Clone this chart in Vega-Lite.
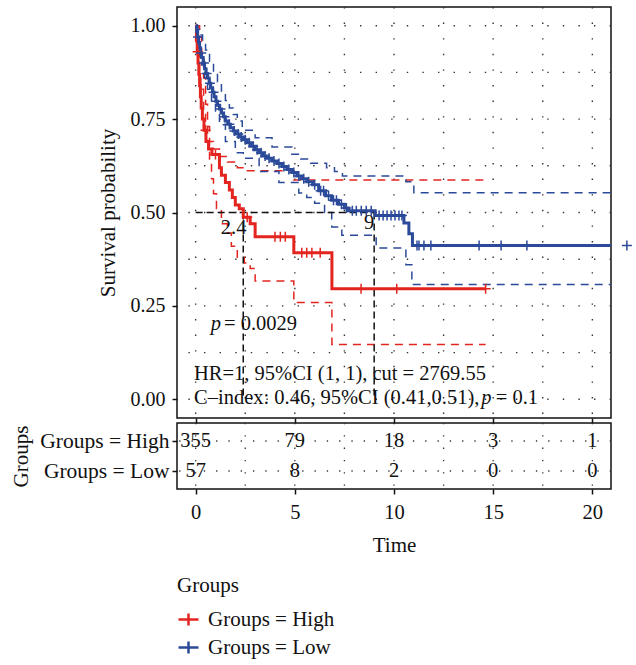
{
  "$schema": "https://vega.github.io/schema/vega-lite/v6.json",
  "padding": {"left": 10, "top": 5, "right": 5, "bottom": 5},
  "bounds": "flush",
  "spacing": 5,
  "config": {
    "font": "Liberation Serif",
    "view": {"stroke": "#111", "strokeWidth": 1.5},
    "axis": {"labelFontSize": 20, "titleFontSize": 21, "titleFontWeight": "normal", "labelColor": "#111", "titleColor": "#111", "tickColor": "#111", "tickWidth": 1.5, "tickSize": 5, "domain": false, "grid": false},
    "legend": {"orient": "none", "legendX": 0, "legendY": 568, "titleFontSize": 21, "titleFontWeight": "normal", "titleColor": "#111", "labelFontSize": 21, "labelColor": "#111", "symbolType": "M-1,0H1M0,-0.6V0.6", "symbolSize": 400, "symbolStrokeWidth": 2.5, "symbolFillColor": "transparent", "labelOffset": 8, "titlePadding": 12, "rowPadding": 5}
  },
  "datasets": {
    "gridx": [{"v": 0}, {"v": 2.5}, {"v": 5}, {"v": 7.5}, {"v": 10}, {"v": 12.5}, {"v": 15}, {"v": 17.5}, {"v": 20}],
    "gridy": [{"v": 0}, {"v": 0.125}, {"v": 0.25}, {"v": 0.375}, {"v": 0.5}, {"v": 0.625}, {"v": 0.75}, {"v": 0.875}, {"v": 1}],
    "rows": [{"g": "Groups = High"}, {"g": "Groups = Low"}],
    "ci": [
      {"t": 0, "s": 1.0, "g": "Groups = High", "b": "u"}, {"t": 0.2, "s": 0.97, "g": "Groups = High", "b": "u"}, {"t": 0.3, "s": 0.92, "g": "Groups = High", "b": "u"}, {"t": 0.4, "s": 0.86, "g": "Groups = High", "b": "u"}, {"t": 0.5, "s": 0.79, "g": "Groups = High", "b": "u"}, {"t": 0.6, "s": 0.73, "g": "Groups = High", "b": "u"}, {"t": 0.7, "s": 0.69, "g": "Groups = High", "b": "u"}, {"t": 0.9, "s": 0.67, "g": "Groups = High", "b": "u"}, {"t": 1.2, "s": 0.65, "g": "Groups = High", "b": "u"}, {"t": 1.6, "s": 0.635, "g": "Groups = High", "b": "u"}, {"t": 2.1, "s": 0.62, "g": "Groups = High", "b": "u"}, {"t": 2.5, "s": 0.612, "g": "Groups = High", "b": "u"}, {"t": 4.95, "s": 0.587, "g": "Groups = High", "b": "u"}, {"t": 14.62, "s": 0.587, "g": "Groups = High", "b": "u"},
      {"t": 0, "s": 1.0, "g": "Groups = High", "b": "l"}, {"t": 0.1, "s": 0.92, "g": "Groups = High", "b": "l"}, {"t": 0.2, "s": 0.86, "g": "Groups = High", "b": "l"}, {"t": 0.26, "s": 0.83, "g": "Groups = High", "b": "l"}, {"t": 0.4, "s": 0.77, "g": "Groups = High", "b": "l"}, {"t": 0.5, "s": 0.73, "g": "Groups = High", "b": "l"}, {"t": 0.6, "s": 0.69, "g": "Groups = High", "b": "l"}, {"t": 0.7, "s": 0.64, "g": "Groups = High", "b": "l"}, {"t": 0.8, "s": 0.59, "g": "Groups = High", "b": "l"}, {"t": 0.9, "s": 0.55, "g": "Groups = High", "b": "l"}, {"t": 1.05, "s": 0.51, "g": "Groups = High", "b": "l"}, {"t": 1.3, "s": 0.47, "g": "Groups = High", "b": "l"}, {"t": 1.6, "s": 0.445, "g": "Groups = High", "b": "l"}, {"t": 1.8, "s": 0.41, "g": "Groups = High", "b": "l"}, {"t": 2.1, "s": 0.38, "g": "Groups = High", "b": "l"}, {"t": 2.45, "s": 0.365, "g": "Groups = High", "b": "l"}, {"t": 2.75, "s": 0.35, "g": "Groups = High", "b": "l"}, {"t": 3.0, "s": 0.317, "g": "Groups = High", "b": "l"}, {"t": 4.95, "s": 0.259, "g": "Groups = High", "b": "l"}, {"t": 6.87, "s": 0.147, "g": "Groups = High", "b": "l"}, {"t": 14.62, "s": 0.147, "g": "Groups = High", "b": "l"},
      {"t": 0, "s": 1.0, "g": "Groups = Low", "b": "u"}, {"t": 0.1, "s": 0.99, "g": "Groups = Low", "b": "u"}, {"t": 0.2, "s": 0.975, "g": "Groups = Low", "b": "u"}, {"t": 0.35, "s": 0.955, "g": "Groups = Low", "b": "u"}, {"t": 0.5, "s": 0.935, "g": "Groups = Low", "b": "u"}, {"t": 0.7, "s": 0.905, "g": "Groups = Low", "b": "u"}, {"t": 0.9, "s": 0.875, "g": "Groups = Low", "b": "u"}, {"t": 1.1, "s": 0.85, "g": "Groups = Low", "b": "u"}, {"t": 1.3, "s": 0.825, "g": "Groups = Low", "b": "u"}, {"t": 1.5, "s": 0.8, "g": "Groups = Low", "b": "u"}, {"t": 1.7, "s": 0.78, "g": "Groups = Low", "b": "u"}, {"t": 1.9, "s": 0.762, "g": "Groups = Low", "b": "u"}, {"t": 2.1, "s": 0.745, "g": "Groups = Low", "b": "u"}, {"t": 2.35, "s": 0.72, "g": "Groups = Low", "b": "u"}, {"t": 3.0, "s": 0.7, "g": "Groups = Low", "b": "u"}, {"t": 3.85, "s": 0.675, "g": "Groups = Low", "b": "u"}, {"t": 4.85, "s": 0.656, "g": "Groups = Low", "b": "u"}, {"t": 5.3, "s": 0.643, "g": "Groups = Low", "b": "u"}, {"t": 5.8, "s": 0.632, "g": "Groups = Low", "b": "u"}, {"t": 6.6, "s": 0.62, "g": "Groups = Low", "b": "u"}, {"t": 7.0, "s": 0.61, "g": "Groups = Low", "b": "u"}, {"t": 7.4, "s": 0.598, "g": "Groups = Low", "b": "u"}, {"t": 10.6, "s": 0.582, "g": "Groups = Low", "b": "u"}, {"t": 11.0, "s": 0.553, "g": "Groups = Low", "b": "u"}, {"t": 21.74, "s": 0.553, "g": "Groups = Low", "b": "u"},
      {"t": 0, "s": 1.0, "g": "Groups = Low", "b": "l"}, {"t": 0.1, "s": 0.95, "g": "Groups = Low", "b": "l"}, {"t": 0.2, "s": 0.92, "g": "Groups = Low", "b": "l"}, {"t": 0.3, "s": 0.895, "g": "Groups = Low", "b": "l"}, {"t": 0.45, "s": 0.86, "g": "Groups = Low", "b": "l"}, {"t": 0.6, "s": 0.83, "g": "Groups = Low", "b": "l"}, {"t": 0.8, "s": 0.795, "g": "Groups = Low", "b": "l"}, {"t": 1.0, "s": 0.765, "g": "Groups = Low", "b": "l"}, {"t": 1.2, "s": 0.735, "g": "Groups = Low", "b": "l"}, {"t": 1.5, "s": 0.69, "g": "Groups = Low", "b": "l"}, {"t": 2.0, "s": 0.66, "g": "Groups = Low", "b": "l"}, {"t": 2.4, "s": 0.645, "g": "Groups = Low", "b": "l"}, {"t": 3.2, "s": 0.61, "g": "Groups = Low", "b": "l"}, {"t": 4.2, "s": 0.58, "g": "Groups = Low", "b": "l"}, {"t": 5.2, "s": 0.552, "g": "Groups = Low", "b": "l"}, {"t": 5.6, "s": 0.54, "g": "Groups = Low", "b": "l"}, {"t": 6.0, "s": 0.525, "g": "Groups = Low", "b": "l"}, {"t": 6.5, "s": 0.5, "g": "Groups = Low", "b": "l"}, {"t": 6.86, "s": 0.461, "g": "Groups = Low", "b": "l"}, {"t": 7.37, "s": 0.439, "g": "Groups = Low", "b": "l"}, {"t": 9.1, "s": 0.405, "g": "Groups = Low", "b": "l"}, {"t": 10.6, "s": 0.36, "g": "Groups = Low", "b": "l"}, {"t": 10.9, "s": 0.307, "g": "Groups = Low", "b": "l"}, {"t": 21.74, "s": 0.307, "g": "Groups = Low", "b": "l"}
    ],
    "curve": [
      {"t": 0, "s": 1.0, "g": "Groups = High"}, {"t": 0.04, "s": 0.96, "g": "Groups = High"}, {"t": 0.08, "s": 0.93, "g": "Groups = High"}, {"t": 0.12, "s": 0.9, "g": "Groups = High"}, {"t": 0.16, "s": 0.87, "g": "Groups = High"}, {"t": 0.2, "s": 0.84, "g": "Groups = High"}, {"t": 0.24, "s": 0.81, "g": "Groups = High"}, {"t": 0.28, "s": 0.78, "g": "Groups = High"}, {"t": 0.34, "s": 0.75, "g": "Groups = High"}, {"t": 0.42, "s": 0.72, "g": "Groups = High"}, {"t": 0.52, "s": 0.69, "g": "Groups = High"}, {"t": 0.65, "s": 0.67, "g": "Groups = High"}, {"t": 0.82, "s": 0.655, "g": "Groups = High"}, {"t": 1.2, "s": 0.62, "g": "Groups = High"}, {"t": 1.3, "s": 0.6, "g": "Groups = High"}, {"t": 1.5, "s": 0.58, "g": "Groups = High"}, {"t": 1.7, "s": 0.56, "g": "Groups = High"}, {"t": 1.85, "s": 0.54, "g": "Groups = High"}, {"t": 2.0, "s": 0.52, "g": "Groups = High"}, {"t": 2.2, "s": 0.51, "g": "Groups = High"}, {"t": 2.4, "s": 0.487, "g": "Groups = High"}, {"t": 2.75, "s": 0.47, "g": "Groups = High"}, {"t": 3.0, "s": 0.435, "g": "Groups = High"}, {"t": 4.95, "s": 0.392, "g": "Groups = High"}, {"t": 6.87, "s": 0.296, "g": "Groups = High"}, {"t": 14.62, "s": 0.296, "g": "Groups = High"},
      {"t": 0, "s": 1.0, "g": "Groups = Low"}, {"t": 0.05, "s": 0.985, "g": "Groups = Low"}, {"t": 0.1, "s": 0.97, "g": "Groups = Low"}, {"t": 0.15, "s": 0.955, "g": "Groups = Low"}, {"t": 0.2, "s": 0.94, "g": "Groups = Low"}, {"t": 0.25, "s": 0.927, "g": "Groups = Low"}, {"t": 0.3, "s": 0.915, "g": "Groups = Low"}, {"t": 0.38, "s": 0.9, "g": "Groups = Low"}, {"t": 0.45, "s": 0.885, "g": "Groups = Low"}, {"t": 0.52, "s": 0.872, "g": "Groups = Low"}, {"t": 0.6, "s": 0.86, "g": "Groups = Low"}, {"t": 0.68, "s": 0.846, "g": "Groups = Low"}, {"t": 0.76, "s": 0.834, "g": "Groups = Low"}, {"t": 0.85, "s": 0.822, "g": "Groups = Low"}, {"t": 0.93, "s": 0.81, "g": "Groups = Low"}, {"t": 1.02, "s": 0.798, "g": "Groups = Low"}, {"t": 1.1, "s": 0.787, "g": "Groups = Low"}, {"t": 1.2, "s": 0.777, "g": "Groups = Low"}, {"t": 1.3, "s": 0.766, "g": "Groups = Low"}, {"t": 1.4, "s": 0.756, "g": "Groups = Low"}, {"t": 1.5, "s": 0.745, "g": "Groups = Low"}, {"t": 1.62, "s": 0.736, "g": "Groups = Low"}, {"t": 1.75, "s": 0.727, "g": "Groups = Low"}, {"t": 1.9, "s": 0.718, "g": "Groups = Low"}, {"t": 2.05, "s": 0.71, "g": "Groups = Low"}, {"t": 2.2, "s": 0.702, "g": "Groups = Low"}, {"t": 2.4, "s": 0.695, "g": "Groups = Low"}, {"t": 2.6, "s": 0.687, "g": "Groups = Low"}, {"t": 2.8, "s": 0.677, "g": "Groups = Low"}, {"t": 3.0, "s": 0.668, "g": "Groups = Low"}, {"t": 3.2, "s": 0.66, "g": "Groups = Low"}, {"t": 3.4, "s": 0.651, "g": "Groups = Low"}, {"t": 3.6, "s": 0.645, "g": "Groups = Low"}, {"t": 3.85, "s": 0.638, "g": "Groups = Low"}, {"t": 4.1, "s": 0.631, "g": "Groups = Low"}, {"t": 4.35, "s": 0.623, "g": "Groups = Low"}, {"t": 4.6, "s": 0.615, "g": "Groups = Low"}, {"t": 4.85, "s": 0.607, "g": "Groups = Low"}, {"t": 5.1, "s": 0.598, "g": "Groups = Low"}, {"t": 5.35, "s": 0.59, "g": "Groups = Low"}, {"t": 5.6, "s": 0.582, "g": "Groups = Low"}, {"t": 5.9, "s": 0.574, "g": "Groups = Low"}, {"t": 6.2, "s": 0.558, "g": "Groups = Low"}, {"t": 6.55, "s": 0.545, "g": "Groups = Low"}, {"t": 6.85, "s": 0.533, "g": "Groups = Low"}, {"t": 7.2, "s": 0.522, "g": "Groups = Low"}, {"t": 7.5, "s": 0.512, "g": "Groups = Low"}, {"t": 7.7, "s": 0.505, "g": "Groups = Low"}, {"t": 9.05, "s": 0.492, "g": "Groups = Low"}, {"t": 10.5, "s": 0.472, "g": "Groups = Low"}, {"t": 10.75, "s": 0.443, "g": "Groups = Low"}, {"t": 10.93, "s": 0.412, "g": "Groups = Low"}, {"t": 21.74, "s": 0.412, "g": "Groups = Low"}
    ],
    "censor": [
      {"t": 0.1, "s": 0.93, "g": "Groups = High"}, {"t": 0.5, "s": 0.72, "g": "Groups = High"}, {"t": 1.0, "s": 0.655, "g": "Groups = High"}, {"t": 2.6, "s": 0.487, "g": "Groups = High"}, {"t": 4.0, "s": 0.435, "g": "Groups = High"}, {"t": 4.27, "s": 0.435, "g": "Groups = High"}, {"t": 4.52, "s": 0.435, "g": "Groups = High"}, {"t": 5.35, "s": 0.392, "g": "Groups = High"}, {"t": 5.6, "s": 0.392, "g": "Groups = High"}, {"t": 5.86, "s": 0.392, "g": "Groups = High"}, {"t": 6.28, "s": 0.392, "g": "Groups = High"}, {"t": 8.34, "s": 0.296, "g": "Groups = High"}, {"t": 10.14, "s": 0.296, "g": "Groups = High"}, {"t": 14.62, "s": 0.296, "g": "Groups = High"},
      {"t": 0.12, "s": 0.97, "g": "Groups = Low"}, {"t": 0.28, "s": 0.927, "g": "Groups = Low"}, {"t": 0.42, "s": 0.9, "g": "Groups = Low"}, {"t": 0.55, "s": 0.872, "g": "Groups = Low"}, {"t": 0.72, "s": 0.846, "g": "Groups = Low"}, {"t": 0.9, "s": 0.822, "g": "Groups = Low"}, {"t": 1.05, "s": 0.798, "g": "Groups = Low"}, {"t": 1.25, "s": 0.777, "g": "Groups = Low"}, {"t": 1.45, "s": 0.756, "g": "Groups = Low"}, {"t": 1.7, "s": 0.736, "g": "Groups = Low"}, {"t": 1.95, "s": 0.718, "g": "Groups = Low"}, {"t": 2.15, "s": 0.71, "g": "Groups = Low"}, {"t": 2.3, "s": 0.702, "g": "Groups = Low"}, {"t": 2.5, "s": 0.695, "g": "Groups = Low"}, {"t": 2.7, "s": 0.687, "g": "Groups = Low"}, {"t": 2.9, "s": 0.677, "g": "Groups = Low"}, {"t": 3.1, "s": 0.668, "g": "Groups = Low"}, {"t": 3.3, "s": 0.66, "g": "Groups = Low"}, {"t": 3.5, "s": 0.651, "g": "Groups = Low"}, {"t": 3.7, "s": 0.645, "g": "Groups = Low"}, {"t": 3.95, "s": 0.638, "g": "Groups = Low"}, {"t": 4.2, "s": 0.631, "g": "Groups = Low"}, {"t": 4.45, "s": 0.623, "g": "Groups = Low"}, {"t": 4.7, "s": 0.615, "g": "Groups = Low"}, {"t": 4.95, "s": 0.607, "g": "Groups = Low"}, {"t": 5.2, "s": 0.598, "g": "Groups = Low"}, {"t": 5.45, "s": 0.59, "g": "Groups = Low"}, {"t": 5.7, "s": 0.582, "g": "Groups = Low"}, {"t": 6.0, "s": 0.574, "g": "Groups = Low"}, {"t": 6.3, "s": 0.558, "g": "Groups = Low"}, {"t": 6.45, "s": 0.558, "g": "Groups = Low"}, {"t": 6.7, "s": 0.545, "g": "Groups = Low"}, {"t": 6.95, "s": 0.533, "g": "Groups = Low"}, {"t": 7.1, "s": 0.533, "g": "Groups = Low"}, {"t": 7.35, "s": 0.522, "g": "Groups = Low"}, {"t": 7.6, "s": 0.512, "g": "Groups = Low"}, {"t": 7.9, "s": 0.505, "g": "Groups = Low"}, {"t": 8.1, "s": 0.505, "g": "Groups = Low"}, {"t": 8.35, "s": 0.505, "g": "Groups = Low"}, {"t": 8.6, "s": 0.505, "g": "Groups = Low"}, {"t": 8.85, "s": 0.505, "g": "Groups = Low"}, {"t": 9.25, "s": 0.492, "g": "Groups = Low"}, {"t": 9.45, "s": 0.492, "g": "Groups = Low"}, {"t": 9.65, "s": 0.492, "g": "Groups = Low"}, {"t": 9.85, "s": 0.492, "g": "Groups = Low"}, {"t": 10.05, "s": 0.492, "g": "Groups = Low"}, {"t": 10.25, "s": 0.492, "g": "Groups = Low"}, {"t": 10.4, "s": 0.492, "g": "Groups = Low"}, {"t": 11.16, "s": 0.412, "g": "Groups = Low"}, {"t": 11.26, "s": 0.412, "g": "Groups = Low"}, {"t": 11.51, "s": 0.412, "g": "Groups = Low"}, {"t": 11.86, "s": 0.412, "g": "Groups = Low"}, {"t": 14.29, "s": 0.412, "g": "Groups = Low"}, {"t": 15.4, "s": 0.412, "g": "Groups = Low"}, {"t": 16.7, "s": 0.412, "g": "Groups = Low"}, {"t": 21.74, "s": 0.412, "g": "Groups = Low"}
    ],
    "median": [{"x": 0, "y": 0.5, "x2": 9.0, "y2": 0.5}, {"x": 2.4, "y": 0.5, "x2": 2.4, "y2": 0}, {"x": 9.0, "y": 0.5, "x2": 9.0, "y2": 0}],
    "notes": [
      {"t": -0.08, "s": 0.0685, "label": "HR=1, 95%CI (1, 1), cut = 2769.55"},
      {"t": -0.08, "s": 0.004, "label": "C–index: 0.46, 95%CI (0.41,0.51), "},
      {"t": 15.13, "s": 0.004, "label": "= 0.1"},
      {"t": 1.43, "s": 0.2007, "label": "= 0.0029"},
      {"t": 1.27, "s": 0.459, "label": "2.4"},
      {"t": 8.49, "s": 0.473, "label": "9"}
    ],
    "italic": [{"t": 0.76, "s": 0.2007, "label": "p"}, {"t": 14.4, "s": 0.004, "label": "p"}],
    "risk": [
      {"t": 0, "g": "Groups = High", "n": "355"}, {"t": 5, "g": "Groups = High", "n": "79"}, {"t": 10, "g": "Groups = High", "n": "18"}, {"t": 15, "g": "Groups = High", "n": "3"}, {"t": 20, "g": "Groups = High", "n": "1"},
      {"t": 0, "g": "Groups = Low", "n": "57"}, {"t": 5, "g": "Groups = Low", "n": "8"}, {"t": 10, "g": "Groups = Low", "n": "2"}, {"t": 15, "g": "Groups = Low", "n": "0"}, {"t": 20, "g": "Groups = Low", "n": "0"}
    ]
  },
  "vconcat": [
    {
      "width": 434,
      "height": 411,
      "layer": [
        {
          "data": {"name": "gridx"},
          "mark": {"type": "rule", "color": "#333", "strokeWidth": 1.4, "strokeDash": [1.4, 14.2]},
          "encoding": {"x": {"field": "v", "type": "quantitative", "scale": {"domain": [-0.94, 20.94], "nice": false, "zero": false}, "axis": {"values": [0, 5, 10, 15, 20], "labels": false, "title": null}}}
        },
        {
          "data": {"name": "gridy"},
          "mark": {"type": "rule", "color": "#333", "strokeWidth": 1.4, "strokeDash": [1.4, 14.2]},
          "encoding": {"y": {"field": "v", "type": "quantitative", "scale": {"domain": [-0.05, 1.05], "nice": false, "zero": false}, "axis": {"values": [0, 0.25, 0.5, 0.75, 1], "format": ".2f", "title": "Survival probability", "labelPadding": 7, "titlePadding": 12}}}
        },
        {
          "data": {"name": "ci"},
          "mark": {"type": "line", "interpolate": "step-after", "strokeWidth": 1.5, "strokeDash": [8, 6], "clip": true},
          "encoding": {
            "x": {"field": "t", "type": "quantitative"},
            "y": {"field": "s", "type": "quantitative"},
            "color": {"field": "g", "type": "nominal", "scale": {"domain": ["Groups = High", "Groups = Low"], "range": ["#E3241F", "#2B4A99"]}, "legend": {"title": "Groups"}},
            "detail": {"field": "b", "type": "nominal"}
          }
        },
        {
          "data": {"name": "median"},
          "mark": {"type": "rule", "color": "#111", "strokeWidth": 1.5, "strokeDash": [7, 4]},
          "encoding": {
            "x": {"field": "x", "type": "quantitative"},
            "y": {"field": "y", "type": "quantitative"},
            "x2": {"field": "x2"},
            "y2": {"field": "y2"}
          }
        },
        {
          "data": {"name": "curve"},
          "mark": {"type": "line", "interpolate": "step-after", "strokeWidth": 3, "clip": true},
          "encoding": {
            "x": {"field": "t", "type": "quantitative"},
            "y": {"field": "s", "type": "quantitative"},
            "color": {"field": "g", "type": "nominal"}
          }
        },
        {
          "data": {"name": "censor"},
          "mark": {"type": "point", "shape": "M-1,0H1M0,-1V1", "filled": false, "size": 100, "strokeWidth": 1.5, "opacity": 1},
          "encoding": {
            "x": {"field": "t", "type": "quantitative"},
            "y": {"field": "s", "type": "quantitative"},
            "color": {"field": "g", "type": "nominal"}
          }
        },
        {
          "data": {"name": "notes"},
          "mark": {"type": "text", "align": "left", "baseline": "middle", "fontSize": 20.5, "color": "#111"},
          "encoding": {
            "x": {"field": "t", "type": "quantitative"},
            "y": {"field": "s", "type": "quantitative"},
            "text": {"field": "label", "type": "nominal"}
          }
        },
        {
          "data": {"name": "italic"},
          "mark": {"type": "text", "align": "left", "baseline": "middle", "fontSize": 20.5, "fontStyle": "italic", "color": "#111"},
          "encoding": {
            "x": {"field": "t", "type": "quantitative"},
            "y": {"field": "s", "type": "quantitative"},
            "text": {"field": "label", "type": "nominal"}
          }
        }
      ]
    },
    {
      "width": 434,
      "height": 66,
      "layer": [
        {
          "data": {"name": "gridx"},
          "mark": {"type": "rule", "color": "#333", "strokeWidth": 1.3, "strokeDash": [1.3, 11]},
          "encoding": {"x": {"field": "v", "type": "quantitative", "scale": {"domain": [-0.94, 20.94], "nice": false, "zero": false}, "axis": {"values": [0, 5, 10, 15, 20], "title": "Time", "labelPadding": 8, "titlePadding": 12, "labelFontSize": 20.5}}}
        },
        {
          "data": {"name": "rows"},
          "mark": {"type": "rule", "color": "#333", "strokeWidth": 1.3, "strokeDash": [1.3, 11]},
          "encoding": {"y": {"field": "g", "type": "nominal", "scale": {"type": "point", "domain": ["Groups = High", "Groups = Low"], "padding": 0.6}, "axis": {"title": "Groups", "labelFontSize": 21.5, "labelPadding": 3, "titlePadding": 8}}}
        },
        {
          "data": {"name": "risk"},
          "mark": {"type": "text", "align": "center", "baseline": "middle", "fontSize": 20.5, "color": "#111"},
          "encoding": {
            "x": {"field": "t", "type": "quantitative"},
            "y": {"field": "g", "type": "nominal"},
            "text": {"field": "n", "type": "nominal"}
          }
        }
      ]
    }
  ]
}
